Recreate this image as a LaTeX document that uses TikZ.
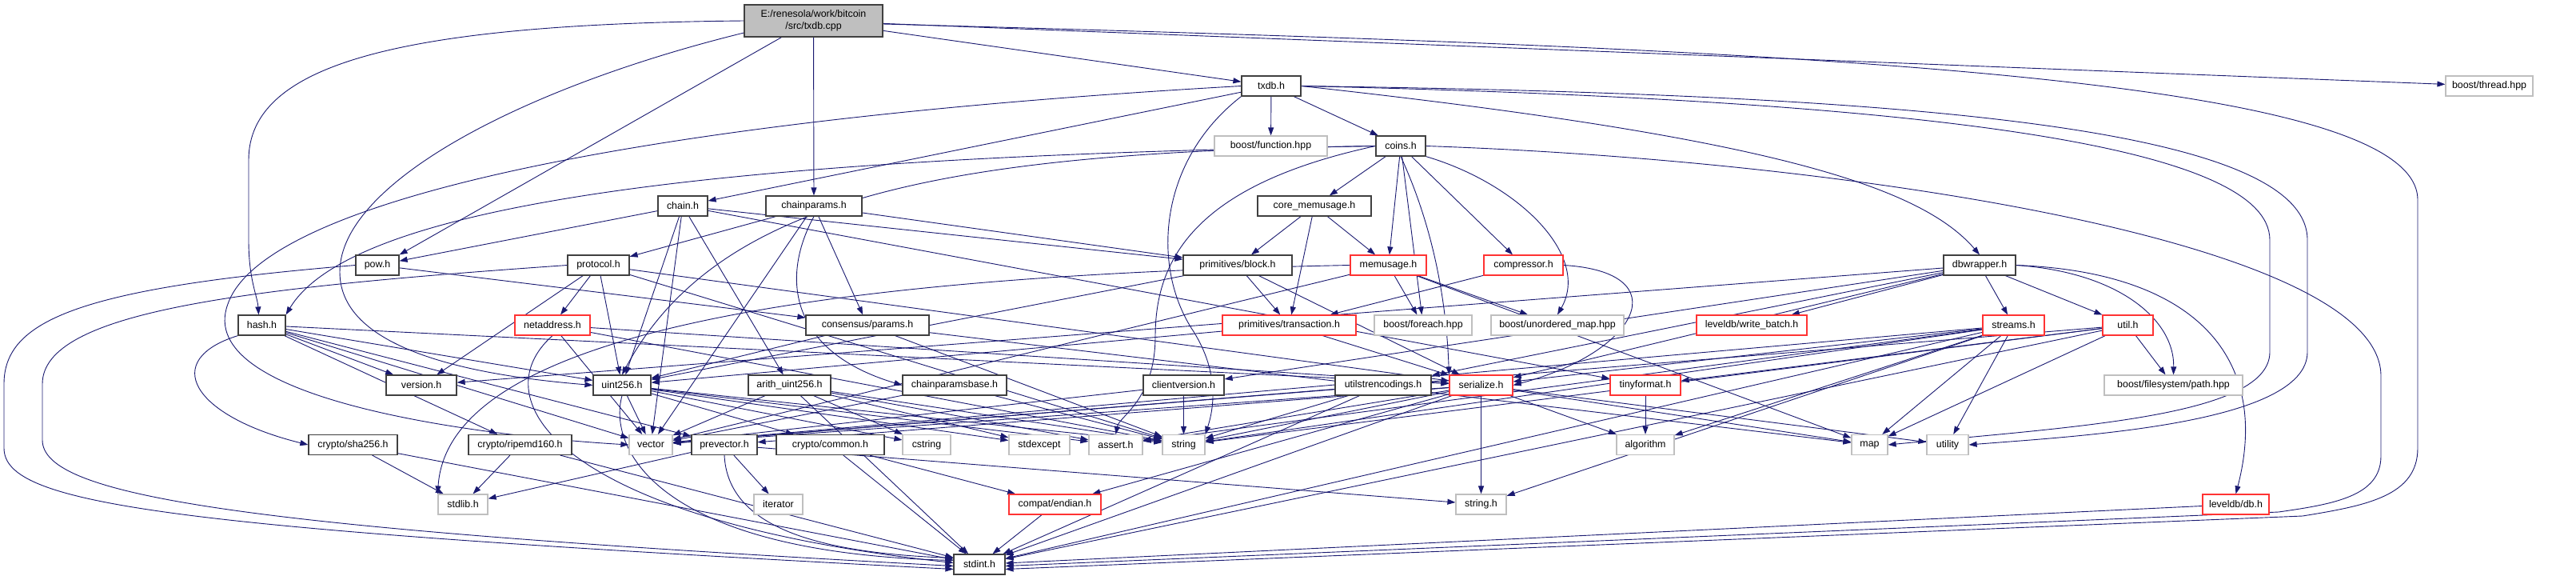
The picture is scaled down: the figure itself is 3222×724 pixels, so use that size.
\documentclass[tikz,border=0pt]{standalone}
\usepackage{fontspec}
\setmainfont{Liberation Sans}
\usetikzlibrary{arrows.meta}
\definecolor{edgec}{HTML}{191970}
\definecolor{redb}{HTML}{FF3333}
\definecolor{grayb}{HTML}{BFBFBF}
\definecolor{darkb}{HTML}{404040}
\pgfdeclarelayer{bg}
\pgfsetlayers{bg,main}
\tikzset{
  nbox/.style={draw=darkb, line width=1.2pt, fill=white, minimum height=25pt, inner sep=0pt,
    font=\fontsize{12.4}{14.5}\selectfont},
  rbox/.style={nbox, draw=redb},
  gbox/.style={nbox, draw=grayb},
  e/.style={draw=edgec, line width=0.9pt, -{Triangle[length=10pt,width=7pt]}}
}
\begin{document}
\begin{tikzpicture}[x=1pt,y=-1pt]
\useasboundingbox (0,0) rectangle (3222,724);
% nodes
\node[nbox, fill=grayb, minimum width=173pt, minimum height=40pt, align=center] (main) at (1017.5,26) {E:/renesola/work/bitcoin\\/src/txdb.cpp};
\node[nbox, minimum width=74pt] (txdb) at (1590,107.5) {txdb.h};
\node[gbox, minimum width=109pt] (thread) at (3113.5,107.5) {boost/thread.hpp};
\node[gbox, minimum width=141pt] (func) at (1589.5,182.5) {boost/function.hpp};
\node[nbox, minimum width=62pt] (coins) at (1752,182.5) {coins.h};
\node[nbox, minimum width=62pt] (chain) at (854,257.5) {chain.h};
\node[nbox, minimum width=120pt] (cparams) at (1018,257.5) {chainparams.h};
\node[nbox, minimum width=142pt] (coremem) at (1644,257.5) {core\_memusage.h};
\node[nbox, minimum width=54pt] (pow) at (472,331.5) {pow.h};
\node[nbox, minimum width=77pt] (protocol) at (748.5,331.5) {protocol.h};
\node[nbox, minimum width=136pt] (block) at (1548,331.5) {primitives/block.h};
\node[rbox, minimum width=95pt] (memusage) at (1736.5,331.5) {memusage.h};
\node[rbox, minimum width=99pt] (compressor) at (1905.5,331.5) {compressor.h};
\node[nbox, minimum width=90pt] (dbwrapper) at (2476,331.5) {dbwrapper.h};
\node[nbox, minimum width=59pt] (hash) at (327.5,406.5) {hash.h};
\node[rbox, minimum width=94pt] (netaddr) at (691,406.5) {netaddress.h};
\node[nbox, minimum width=154pt] (consensus) at (1085,406.5) {consensus/params.h};
\node[rbox, minimum width=167pt] (tx) at (1612.5,406.5) {primitives/transaction.h};
\node[gbox, minimum width=122pt] (foreach) at (1780,406.5) {boost/foreach.hpp};
\node[gbox, minimum width=166pt] (umap) at (1948,406.5) {boost/unordered\_map.hpp};
\node[rbox, minimum width=138pt] (wbatch) at (2191,406.5) {leveldb/write\_batch.h};
\node[rbox, minimum width=77pt] (streams) at (2518.5,406.5) {streams.h};
\node[rbox, minimum width=63pt] (util) at (2661.5,406.5) {util.h};
\node[nbox, minimum width=88pt] (version) at (527,481.5) {version.h};
\node[nbox, minimum width=72pt] (uint) at (778,481.5) {uint256.h};
\node[nbox, minimum width=103pt] (arith) at (987.5,481.5) {arith\_uint256.h};
\node[nbox, minimum width=130pt] (cpbase) at (1194,481.5) {chainparamsbase.h};
\node[nbox, minimum width=101pt] (clientv) at (1480.5,481.5) {clientversion.h};
\node[nbox, minimum width=120pt] (utilstr) at (1730,481.5) {utilstrencodings.h};
\node[rbox, minimum width=79pt] (serialize) at (1852.5,481.5) {serialize.h};
\node[rbox, minimum width=88pt] (tinyf) at (2058,481.5) {tinyformat.h};
\node[gbox, minimum width=173pt] (path) at (2718.5,481.5) {boost/filesystem/path.hpp};
\node[nbox, minimum width=111pt] (sha) at (441.5,556) {crypto/sha256.h};
\node[nbox, minimum width=129pt] (ripemd) at (650.5,556) {crypto/ripemd160.h};
\node[gbox, minimum width=54pt] (vector) at (814,556) {vector};
\node[nbox, minimum width=82pt] (prevector) at (906,556) {prevector.h};
\node[nbox, minimum width=135pt] (common) at (1038.5,556) {crypto/common.h};
\node[gbox, minimum width=60pt] (cstring) at (1159,556) {cstring};
\node[gbox, minimum width=76pt] (stdexcept) at (1300,556) {stdexcept};
\node[gbox, minimum width=67pt] (assert) at (1395.5,556) {assert.h};
\node[gbox, minimum width=53pt] (string) at (1480.5,556) {string};
\node[gbox, minimum width=72pt] (algorithm) at (2058,556) {algorithm};
\node[gbox, minimum width=45pt] (map) at (2338.5,556) {map};
\node[gbox, minimum width=52pt] (utility) at (2436,556) {utility};
\node[gbox, minimum width=62pt] (stdlib) at (579,630.5) {stdlib.h};
\node[gbox, minimum width=61pt] (iterator) at (973.5,630.5) {iterator};
\node[rbox, minimum width=115pt] (endian) at (1319.5,630.5) {compat/endian.h};
\node[gbox, minimum width=63pt] (stringh) at (1852.5,630.5) {string.h};
\node[rbox, minimum width=83pt] (ldb) at (2796.5,630.5) {leveldb/db.h};
\node[nbox, minimum width=64pt] (stdint) at (1225,705.5) {stdint.h};
% edges
\begin{pgfonlayer}{bg}
\foreach \a/\b in {main/txdb, main/thread, main/cparams,
 txdb/func, txdb/coins, txdb/chain,
 coins/compressor, coins/coremem, coins/memusage, coins/foreach,
 coremem/tx, coremem/block, coremem/memusage,
 memusage/foreach, memusage/umap, memusage/map, memusage/vector,
 compressor/tx,
 chain/arith, chain/block, chain/pow, chain/tinyf, chain/uint, chain/vector,
 cparams/consensus, cparams/block, cparams/protocol, cparams/vector,
 hash/ripemd, hash/prevector, hash/serialize, hash/uint, hash/version, hash/vector,
 pow/consensus,
 protocol/netaddr, protocol/serialize, protocol/uint, protocol/version, protocol/string,
 netaddr/serialize, netaddr/string, netaddr/vector,
 uint/assert, uint/cstring, uint/stdexcept, uint/string, uint/vector, uint/common,
 arith/assert, arith/cstring, arith/stdexcept, arith/stdint, arith/string, arith/vector,
 consensus/uint, consensus/map, consensus/string,
 cpbase/string, cpbase/vector,
 sha/stdint, sha/stdlib, ripemd/stdint, ripemd/stdlib,
 common/stdint, common/endian,
 prevector/stdlib, prevector/iterator, prevector/stringh,
 block/tx, block/serialize, block/uint,
 tx/serialize, tx/uint,
 serialize/endian, serialize/algorithm, serialize/assert, serialize/map, serialize/stdint,
 serialize/string, serialize/stringh, serialize/utility, serialize/vector, serialize/prevector,
 tinyf/algorithm, endian/stdint,
 dbwrapper/clientv, dbwrapper/serialize, dbwrapper/streams, dbwrapper/util, dbwrapper/utilstr,
 dbwrapper/version, dbwrapper/wbatch,
 clientv/string, clientv/vector,
 utilstr/stdint, utilstr/string, utilstr/vector,
 streams/serialize, streams/algorithm, streams/assert, streams/map, streams/stdint,
 streams/string, streams/stringh, streams/utility, streams/vector,
 util/tinyf, util/map, util/stdint, util/string, util/vector, util/path,
 ldb/stdint}
 \draw[e] (\a) -- (\b);
% curved / routed edges
\draw[e] ([yshift=-4pt]main.east) .. controls (2200,60) and (3024,90) .. (3024,250) -- (3024,560)
  .. controls (3024,620) and (2960,632) .. (2880,645) -- ([yshift=-6pt]stdint.east);
\draw[e] ([xshift=-40pt]main.south) -- (pow.north east);
\draw[e] (main.west) .. controls (500,30) and (311,80) .. (311,200) -- (311,300)
  .. controls (311,350) and (322,370) .. ([xshift=-4pt]hash.north);
\draw[e] ([yshift=-15pt]main.west) .. controls (650,110) and (425,230) .. (425,340)
  .. controls (425,440) and (600,470) .. (uint.west);
\draw[e] (txdb.east) .. controls (2200,170) and (2400,230) .. (dbwrapper.north);
\draw[e] (txdb.west) .. controls (800,150) and (330,250) .. (285,380)
  .. controls (240,500) and (600,545) .. (vector.west);
\draw[e] (txdb.south west) .. controls (1450,200) and (1440,330) .. (1490,410)
  .. controls (1530,470) and (1515,520) .. (string.north east);
\draw[e] (txdb.east) .. controls (2400,125) and (2839,180) .. (2839,300) -- (2839,440)
  .. controls (2839,520) and (2600,533) .. (map.east);
\draw[e] (txdb.east) .. controls (2400,118) and (2886,160) .. (2886,300) -- (2886,440)
  .. controls (2886,530) and (2600,545) .. (utility.east);
\draw[e] (coins.south east) .. controls (1900,230) and (1990,320) .. (umap.north);
\draw[e] (coins.west) .. controls (1000,195) and (450,240) .. (hash.north east);
\draw[e] (coins.west) .. controls (1200,190) and (900,240) .. (uint.north);
\draw[e] (coins.south) .. controls (1800,300) and (1810,400) .. (serialize.north west);
\draw[e] (coins.west) .. controls (1500,230) and (1445,320) .. (1445,420) .. controls (1445,500) and (1400,520) .. (assert.north);
\draw[e] (coins.east) .. controls (2300,200) and (2978,300) .. (2978,470) -- (2978,570)
  .. controls (2978,620) and (2920,630) .. (2850,640) -- ([yshift=-2pt]stdint.east);
\draw[e] (memusage.west) .. controls (1000,345) and (560,420) .. (stdlib.north west);
\draw[e] (compressor.east) .. controls (2100,340) and (2050,440) .. (serialize.east);
\draw[e] (cparams.south) .. controls (975,350) and (990,440) .. (cpbase.west);
\draw[e] (hash.south west) .. controls (200,450) and (240,520) .. (sha.west);
\draw[e] (pow.west) .. controls (100,360) and (5,400) .. (5,480) -- (5,560)
  .. controls (5,630) and (200,660) .. ([yshift=-6pt]stdint.west);
\draw[e] (protocol.west) .. controls (300,360) and (53,390) .. (53,480) -- (53,550)
  .. controls (53,620) and (300,660) .. ([yshift=-2pt]stdint.west);
\draw[e] (netaddr.south) .. controls (600,500) and (700,650) .. ([yshift=2pt]stdint.west);
\draw[e] (uint.south) .. controls (760,560) and (820,690) .. ([yshift=5pt]stdint.west);
\draw[e] (prevector.south) .. controls (910,650) and (1000,690) .. ([yshift=8pt]stdint.west);
\draw[e] (dbwrapper.east) .. controls (2750,340) and (2840,450) .. (ldb.north);
\draw[e] (dbwrapper.east) .. controls (2650,340) and (2720,400) .. (path.north);
\end{pgfonlayer}
\end{tikzpicture}
\end{document}
